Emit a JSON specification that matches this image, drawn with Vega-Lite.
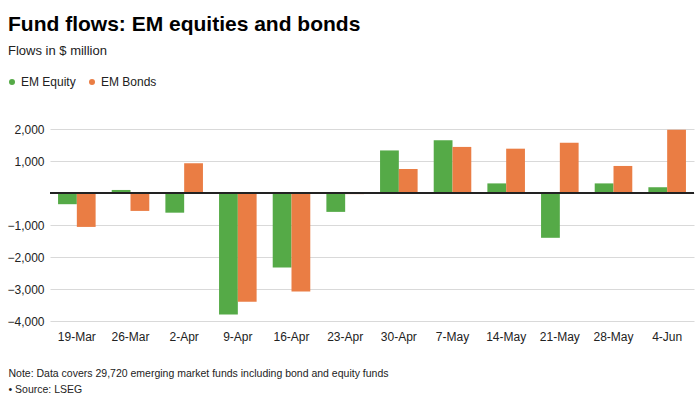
{
  "$schema": "https://vega.github.io/schema/vega-lite/v6.json",
  "width": 644,
  "height": 192,
  "autosize": {"type": "none"},
  "padding": {"left": 50, "top": 129, "right": 6, "bottom": 78},
  "background": "white",
  "config": {
    "font": "Liberation Sans",
    "view": {"stroke": null}
  },
  "title": {
    "text": "Fund flows: EM equities and bonds",
    "subtitle": "Flows in $ million",
    "anchor": "start",
    "frame": "group",
    "dx": -42,
    "offset": 18,
    "font": "Liberation Sans",
    "fontSize": 21,
    "fontWeight": "bold",
    "color": "#000000",
    "subtitleFont": "Liberation Sans",
    "subtitleFontSize": 13,
    "subtitleColor": "#222222",
    "subtitlePadding": 10
  },
  "data": {
    "values": [
      {"week": "19-Mar", "series": "EM Equity", "flow": -350},
      {"week": "19-Mar", "series": "EM Bonds", "flow": -1060},
      {"week": "26-Mar", "series": "EM Equity", "flow": 95},
      {"week": "26-Mar", "series": "EM Bonds", "flow": -560},
      {"week": "2-Apr", "series": "EM Equity", "flow": -615},
      {"week": "2-Apr", "series": "EM Bonds", "flow": 930},
      {"week": "9-Apr", "series": "EM Equity", "flow": -3800},
      {"week": "9-Apr", "series": "EM Bonds", "flow": -3400},
      {"week": "16-Apr", "series": "EM Equity", "flow": -2330},
      {"week": "16-Apr", "series": "EM Bonds", "flow": -3080},
      {"week": "23-Apr", "series": "EM Equity", "flow": -590},
      {"week": "23-Apr", "series": "EM Bonds", "flow": -35},
      {"week": "30-Apr", "series": "EM Equity", "flow": 1330},
      {"week": "30-Apr", "series": "EM Bonds", "flow": 750},
      {"week": "7-May", "series": "EM Equity", "flow": 1645},
      {"week": "7-May", "series": "EM Bonds", "flow": 1440},
      {"week": "14-May", "series": "EM Equity", "flow": 300},
      {"week": "14-May", "series": "EM Bonds", "flow": 1385},
      {"week": "21-May", "series": "EM Equity", "flow": -1400},
      {"week": "21-May", "series": "EM Bonds", "flow": 1570},
      {"week": "28-May", "series": "EM Equity", "flow": 300},
      {"week": "28-May", "series": "EM Bonds", "flow": 845},
      {"week": "4-Jun", "series": "EM Equity", "flow": 180},
      {"week": "4-Jun", "series": "EM Bonds", "flow": 1980}
    ]
  },
  "layer": [
    {
      "mark": {"type": "bar"},
      "encoding": {
        "x": {
          "field": "week",
          "type": "nominal",
          "sort": null,
          "scale": {"paddingInner": 0.3, "paddingOuter": 0.15},
          "axis": {
            "title": ["Note: Data covers 29,720 emerging market funds including bond and equity funds", "• Source: LSEG"],
            "titleFont": "Liberation Sans",
            "titleFontSize": 10.5,
            "titleFontWeight": "normal",
            "titleColor": "#222222",
            "titleAnchor": "start",
            "titleAlign": "left",
            "titleBaseline": "alphabetic",
            "titleX": -42,
            "titleY": 55,
            "titleLineHeight": 16,
            "labelAngle": 0,
            "labelFontSize": 12,
            "labelColor": "#222222",
            "labelPadding": 10,
            "ticks": false,
            "domain": false,
            "grid": false
          }
        },
        "xOffset": {
          "field": "series",
          "type": "nominal",
          "sort": ["EM Equity", "EM Bonds"],
          "scale": {"paddingInner": 0, "paddingOuter": 0}
        },
        "y": {
          "field": "flow",
          "type": "quantitative",
          "scale": {"domain": [-4000, 2000], "nice": false},
          "axis": {
            "title": null,
            "values": [-4000, -3000, -2000, -1000, 0, 1000, 2000],
            "tickCount": 10,
            "labelExpr": "datum.value == 0 ? '' : format(datum.value, ',d')",
            "labelOverlap": false,
            "labelFontSize": 12,
            "labelColor": "#222222",
            "labelPadding": 6,
            "ticks": false,
            "domain": false,
            "grid": true,
            "gridColor": "#d9d9d9",
            "gridWidth": 1
          }
        },
        "color": {
          "field": "series",
          "type": "nominal",
          "sort": ["EM Equity", "EM Bonds"],
          "scale": {"domain": ["EM Equity", "EM Bonds"], "range": ["#55aa47", "#ea7d44"]},
          "legend": {
            "title": null,
            "orient": "none",
            "legendX": -44,
            "legendY": -53,
            "direction": "horizontal",
            "symbolType": "circle",
            "symbolSize": 36,
            "symbolStrokeWidth": 0,
            "labelFontSize": 12,
            "labelColor": "#222222",
            "labelOffset": 3,
            "columnPadding": 10
          }
        }
      }
    },
    {
      "mark": {"type": "rule", "color": "#222222", "strokeWidth": 1},
      "encoding": {
        "y": {
          "datum": 0,
          "type": "quantitative",
          "axis": {
            "title": null,
            "values": [-4000, -3000, -2000, -1000, 0, 1000, 2000],
            "tickCount": 10,
            "labelExpr": "datum.value == 0 ? '' : format(datum.value, ',d')",
            "labelOverlap": false,
            "labelFontSize": 12,
            "labelColor": "#222222",
            "labelPadding": 6,
            "ticks": false,
            "domain": false,
            "grid": true,
            "gridColor": "#d9d9d9",
            "gridWidth": 1
          }
        }
      }
    }
  ]
}
